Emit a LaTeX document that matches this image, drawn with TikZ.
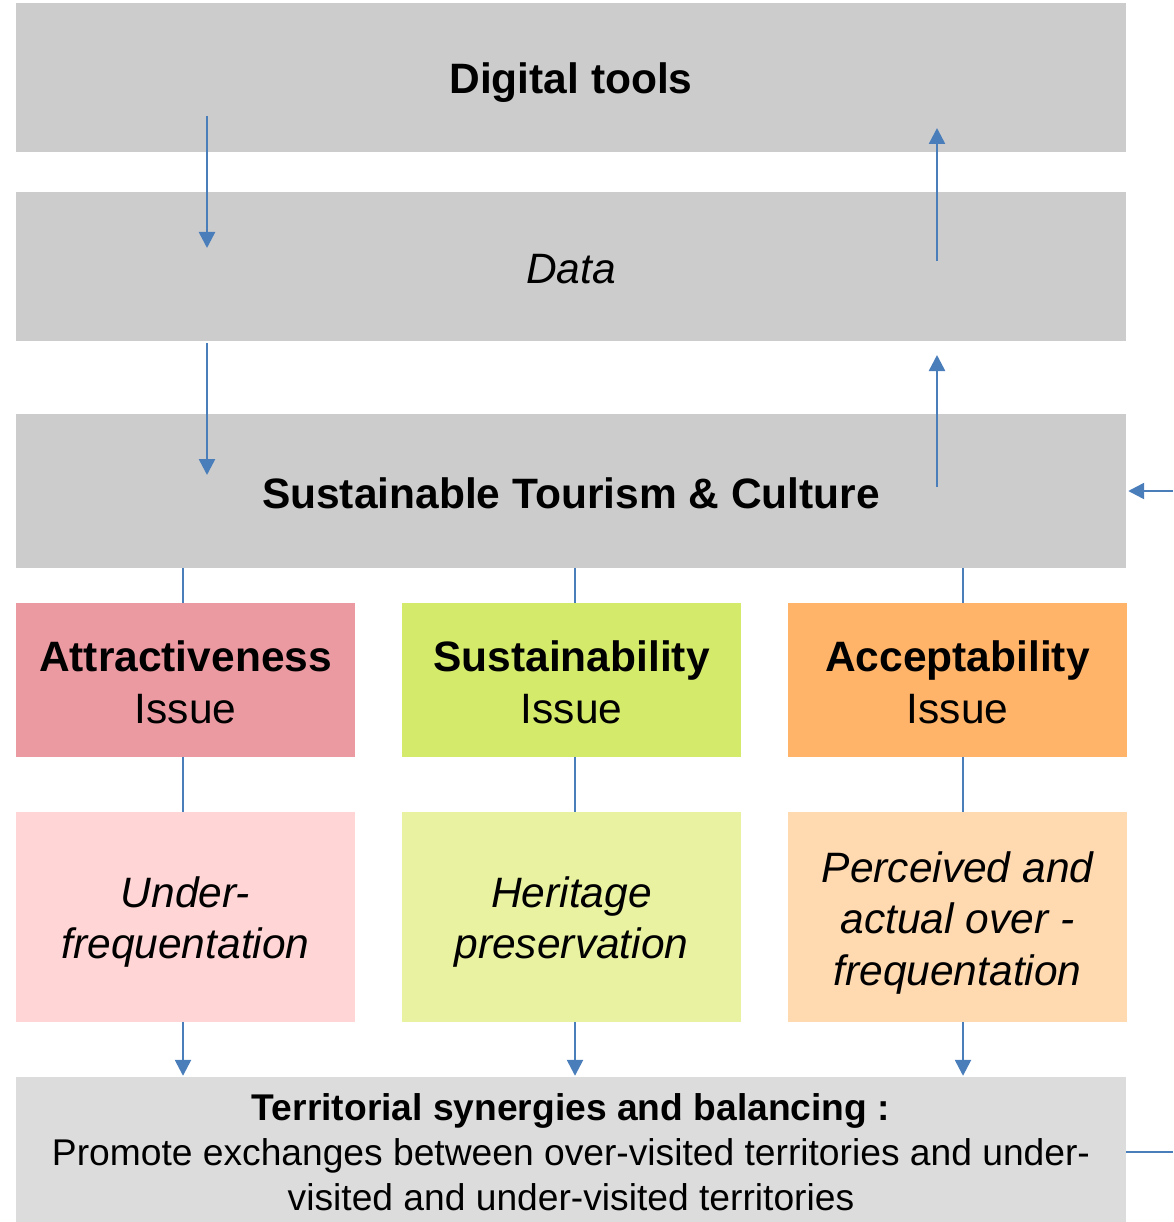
\documentclass[tikz,border=0pt]{standalone}
\usepackage{fontspec}
\setmainfont{Liberation Sans}
\usetikzlibrary{arrows.meta}
\definecolor{greybox}{HTML}{CCCCCC}
\definecolor{lightgrey}{HTML}{DCDCDC}
\definecolor{pinkA}{HTML}{EC9AA2}
\definecolor{greenA}{HTML}{D4EA6B}
\definecolor{orangeA}{HTML}{FFB469}
\definecolor{pinkB}{HTML}{FFD5D5}
\definecolor{greenB}{HTML}{E9F2A1}
\definecolor{orangeB}{HTML}{FFDAB1}
\definecolor{arrowblue}{HTML}{4A7EBB}
\newcommand{\topstrut}[1]{\rule{0pt}{#1pt}}
\tikzset{
  panel/.style={rectangle, inner sep=0pt, align=center, text=black},
  widebox/.style={panel, minimum width=1110pt},
  colbox/.style={panel, minimum width=339pt},
  bigfont/.style={font=\fontsize{42.5}{51.5}\selectfont},
  smallfont/.style={font=\fontsize{37.2}{45}\selectfont},
  flow/.style={draw=arrowblue, line width=2.5pt, -{Triangle[width=16pt,length=16pt]}},
  link/.style={draw=arrowblue, line width=2.5pt},
}
\begin{document}
\begin{tikzpicture}[x=1pt,y=-1pt]
\useasboundingbox (0,0) rectangle (1173,1222);

% main bands
\node[widebox, fill=greybox, minimum height=149pt, bigfont] (dig) at (571,77.5) {\topstrut{40.5}\bfseries Digital tools};
\node[widebox, fill=greybox, minimum height=149pt, bigfont] (data) at (571,266.5) {\topstrut{33.5}\itshape Data};
\node[widebox, fill=greybox, minimum height=154pt, bigfont] (sus) at (571,491) {\topstrut{34.5}\bfseries Sustainable Tourism \& Culture};

% issue boxes
\node[colbox, fill=pinkA, minimum height=154pt, bigfont] (attr) at (185.5,680) {\topstrut{35.5}\bfseries Attractiveness\\Issue};
\node[colbox, fill=greenA, minimum height=154pt, bigfont] (sust) at (571.5,680) {\topstrut{35.5}\bfseries Sustainability\\Issue};
\node[colbox, fill=orangeA, minimum height=154pt, bigfont] (acc) at (957.5,680) {\topstrut{35.5}\bfseries Acceptability\\Issue};

% description boxes
\node[colbox, fill=pinkB, minimum height=210pt, bigfont] (under) at (185.5,917) {\topstrut{41}\itshape Under-\\\itshape frequentation};
\node[colbox, fill=greenB, minimum height=210pt, bigfont] (herit) at (571.5,917) {\topstrut{41}\itshape Heritage\\\itshape preservation};
\node[colbox, fill=orangeB, minimum height=210pt, bigfont] (over) at (957.5,917) {\topstrut{42}\itshape Perceived and\\\itshape actual over -\\\itshape frequentation};

% bottom band
\node[widebox, fill=lightgrey, minimum height=145pt, smallfont] (terr) at (571,1149.5)
  {\topstrut{32.6}\bfseries Territorial synergies and balancing :\\Promote exchanges between over-visited territories and under-\\visited and under-visited territories};

% coordinates
\coordinate (d1s) at (207,116);
\coordinate (d1e) at (207,248);
\coordinate (d2s) at (207,343);
\coordinate (d2e) at (207,475);
\coordinate (u1s) at (937,261);
\coordinate (u1e) at (937,128);
\coordinate (u2s) at (937,487);
\coordinate (u2e) at (937,355);
\coordinate (xA) at (183,0);
\coordinate (xB) at (575,0);
\coordinate (xC) at (963,0);
\coordinate (rin) at (1173,491);
\coordinate (rout) at (1173,1152);

% vertical flow arrows
\draw[flow] (d1s) -- (d1e);
\draw[flow] (d2s) -- (d2e);
\draw[flow] (u1s) -- (u1e);
\draw[flow] (u2s) -- (u2e);

% links sus -> issues -> descriptions
\draw[link] (sus.south -| xA) -- (attr.north -| xA);
\draw[link] (sus.south -| xB) -- (sust.north -| xB);
\draw[link] (sus.south -| xC) -- (acc.north -| xC);
\draw[link] (attr.south -| xA) -- (under.north -| xA);
\draw[link] (sust.south -| xB) -- (herit.north -| xB);
\draw[link] (acc.south -| xC) -- (over.north -| xC);

% descriptions -> territorial
\draw[flow] (under.south -| xA) -- ([yshift=1pt]terr.north -| xA);
\draw[flow] (herit.south -| xB) -- ([yshift=1pt]terr.north -| xB);
\draw[flow] (over.south -| xC) -- ([yshift=1pt]terr.north -| xC);

% feedback stubs on the right
\draw[flow] (rin) -- ([xshift=2pt]sus.east |- rin);
\draw[link] (terr.east |- rout) -- (rout);
\end{tikzpicture}
\end{document}
